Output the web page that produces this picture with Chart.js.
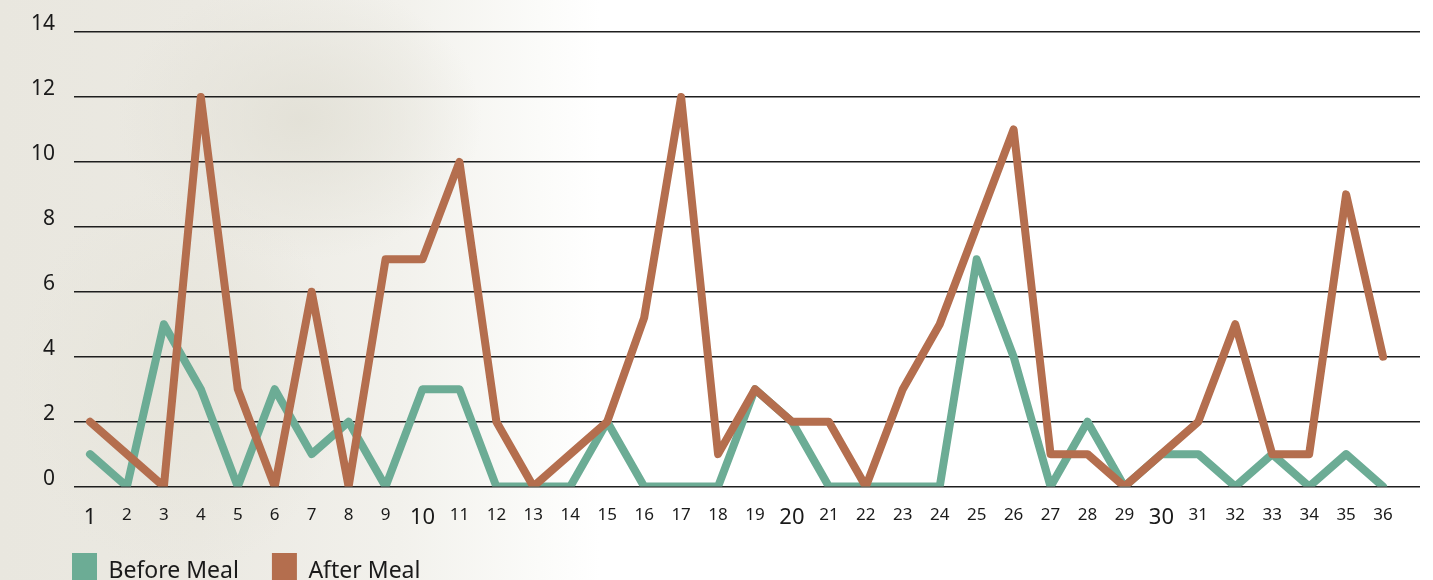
<!DOCTYPE html>
<html>
<head>
<meta charset="utf-8">
<script src="https://cdn.jsdelivr.net/npm/chart.js@4/dist/chart.umd.min.js"></script>
<style>
  html, body { margin: 0; padding: 0; overflow: hidden; width: 1433px; height: 580px; }
  body {
    background:
      radial-gradient(ellipse 260px 200px at 300px 120px, rgba(226,224,214,0.9), rgba(226,224,214,0) 70%),
      radial-gradient(ellipse 220px 260px at 180px 380px, rgba(230,228,218,0.9), rgba(230,228,218,0) 75%),
      linear-gradient(90deg, #e9e7df 0px, #ebe9e2 200px, #f2f1ec 400px, #fbfbf9 540px, #ffffff 600px);
  }
  canvas { display: block; }
</style>
</head>
<body>
<canvas id="lineChart" width="1433" height="628"></canvas>
<script>
const days = [1,2,3,4,5,6,7,8,9,10,11,12,13,14,15,16,17,18,19,20,21,22,23,24,25,26,27,28,29,30,31,32,33,34,35,36];
const beforeMeal = [1,0,5,3,0,3,1,2,0,3,3,0,0,0,2,0,0,0,3,2,0,0,0,0,7,4,0,2,0,1,1,0,1,0,1,0];
const afterMeal = [2,1,0,12,3,0,6,0,7,7,10,2,0,1,2,5.2,12,1,3,2,2,0,3,5,8,11,1,1,0,1,2,5,1,1,9,4];
const yTicks = [0,2,4,6,8,10,12,14];
const bigDays = [1,10,20,30];

document.addEventListener('DOMContentLoaded', () => {
  const green = 'rgb(108, 172, 149)';
  const brown = 'rgb(180, 110, 78)';

  const data = {
    datasets: [{
      label: 'Before Meal',
      data: days.map((d, i) => ({x: d, y: beforeMeal[i]})),
      borderColor: green,
      backgroundColor: green,
      borderWidth: 8,
      order: 1,
    }, {
      label: 'After Meal',
      data: days.map((d, i) => ({x: d, y: afterMeal[i]})),
      borderColor: brown,
      backgroundColor: brown,
      borderWidth: 8,
      order: 0,
    }]
  }

  // nudge the legend to where the original sits
  const legendShift = {
    id: 'legendShift',
    beforeDraw(chart) {
      if (chart.legend && !chart.legend._shifted) {
        chart.legend.left += 39;
        chart.legend.top -= 29;
        chart.legend._shifted = true;
      }
    }
  }

  const ctx = document.getElementById('lineChart').getContext('2d');

  let chart = new Chart(ctx, {
    type: 'line',
    data: data,
    plugins: [legendShift],
    options: {
      responsive: false,
      animation: false,
      maintainAspectRatio: false,
      layout: { padding: { left: 0, right: 13, top: 32, bottom: 0 } },
      elements: {
        point: { radius: 0 },
        line: { tension: 0, borderJoinStyle: 'round', borderCapStyle: 'round' }
      },
      scales: {
        x: {
          type: 'linear',
          min: 0.567,
          max: 37,
          afterBuildTicks: axis => { axis.ticks = days.map(v => ({value: v})); },
          grid: { display: false, drawTicks: false },
          border: { display: false },
          ticks: {
            color: '#1a1a1a',
            padding: 18,
            maxRotation: 0,
            autoSkip: false,
            font: c => ({ family: 'Noto Sans', size: bigDays.includes(c.tick && c.tick.value) ? 22 : 17 }),
          }
        },
        y: {
          min: 0,
          max: 14,
          afterBuildTicks: axis => { axis.ticks = yTicks.map(v => ({value: v})); },
          afterFit: axis => { axis.width = 74; },
          grid: { color: '#1e1e1e', lineWidth: 1.5, drawTicks: false },
          border: { display: false },
          ticks: {
            color: '#1a1a1a',
            padding: 19,
            labelOffset: -8,
            font: { family: 'Noto Sans', size: 21 },
          }
        }
      },
      plugins: {
        tooltip: { enabled: false },
        legend: {
          position: 'bottom',
          align: 'start',
          labels: {
            boxWidth: 25,
            boxHeight: 36,
            padding: 33,
            color: '#1a1a1a',
            font: { family: 'Noto Sans', size: 23 },
            generateLabels: c => Chart.defaults.plugins.legend.labels.generateLabels(c)
              .map(l => Object.assign(l, { lineWidth: 0 }))
              .sort((a, b) => a.datasetIndex - b.datasetIndex),
          }
        }
      }
    }
  })
})
</script>
</body>
</html>
